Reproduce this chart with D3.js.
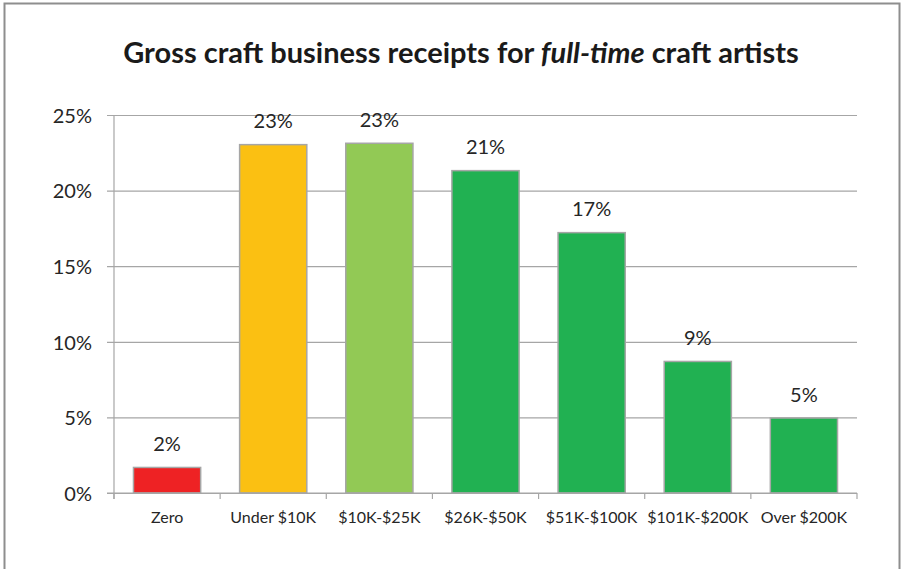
<!DOCTYPE html>
<html>
<head>
<meta charset="utf-8">
<script src="https://cdn.jsdelivr.net/npm/d3@7"></script>
<style>
  html, body { margin: 0; padding: 0; background: #fff; }
  svg { display: block; font-family: Lato, "Open Sans", sans-serif; }
</style>
</head>
<body>
<svg id="chart" width="904" height="569"></svg>
<script>
// Share of full-time craft artists by gross craft business receipts
const categories = ["Zero", "Under $10K", "$10K-$25K", "$26K-$50K", "$51K-$100K", "$101K-$200K", "Over $200K"];
const shares = [0.0169, 0.2304, 0.2313, 0.2132, 0.1722, 0.0870, 0.0496];
const barColors = ["#ee2224", "#fbc012", "#92c955", "#21b152", "#21b152", "#21b152", "#21b152"];
const yTicks = [0, 0.05, 0.10, 0.15, 0.20, 0.25];

const svg = d3.select("#chart");
const W = 904, H = 569;
const margin = { left: 114, right: 47, top: 115, bottom: 76 };

// chart frame
svg.append("rect")
  .attr("x", 4.5).attr("y", 3.5)
  .attr("width", 895).attr("height", 580)
  .attr("fill", "#fff").attr("stroke", "#8e8e8e").attr("stroke-width", 2);

const x = d3.scaleBand()
  .domain(categories)
  .range([margin.left, W - margin.right])
  .paddingInner(0.367)
  .paddingOuter(0.1835);

const y = d3.scaleLinear()
  .domain([0, 0.25])
  .range([H - margin.bottom, margin.top]);

const pct = d3.format(".0%");

// title
const title = svg.append("text")
  .attr("x", 461).attr("y", 63)
  .attr("text-anchor", "middle")
  .attr("font-size", 29).attr("font-weight", 700)
  .attr("fill", "#1a1a1a");
title.append("tspan").text("Gross craft business receipts for ");
title.append("tspan").attr("font-style", "italic").text("full-time");
title.append("tspan").text(" craft artists");

// horizontal gridlines + y axis
const yAxis = d3.axisLeft(y)
  .tickValues(yTicks)
  .tickFormat(pct)
  .tickSize(-(W - margin.left - margin.right))
  .tickPadding(0);

const gy = svg.append("g")
  .attr("transform", `translate(${margin.left},0)`)
  .call(yAxis);
gy.select(".domain").remove();
gy.selectAll(".tick line")
  .attr("x1", -7)
  .attr("stroke", "#a6a6a6").attr("stroke-width", 1.2);
gy.selectAll(".tick text")
  .attr("x", -22)
  .attr("dy", "0.36em")
  .attr("font-size", 20)
  .attr("font-family", "Lato, sans-serif")
  .attr("fill", "#262626");

// vertical axis line
svg.append("line")
  .attr("x1", margin.left).attr("x2", margin.left)
  .attr("y1", y(0.25)).attr("y2", y(0) + 6)
  .attr("stroke", "#a6a6a6").attr("stroke-width", 1.2);

// bars
svg.append("g").selectAll("rect")
  .data(categories)
  .join("rect")
  .attr("x", d => x(d))
  .attr("width", x.bandwidth())
  .attr("y", (d, i) => y(shares[i]))
  .attr("height", (d, i) => y(0) - y(shares[i]))
  .attr("fill", (d, i) => barColors[i])
  .attr("stroke", "#a6a6a6")
  .attr("stroke-width", 1.5);

// category axis with boundary ticks
const step = x.step();
const boundaries = d3.range(categories.length + 1).map(i => margin.left + i * step);
svg.append("line")
  .attr("x1", margin.left - 7).attr("x2", W - margin.right)
  .attr("y1", y(0)).attr("y2", y(0))
  .attr("stroke", "#a6a6a6").attr("stroke-width", 1.2);
svg.append("g").selectAll("line")
  .data(boundaries)
  .join("line")
  .attr("x1", d => d).attr("x2", d => d)
  .attr("y1", y(0)).attr("y2", y(0) + 6)
  .attr("stroke", "#a6a6a6").attr("stroke-width", 1.2);

svg.append("g").selectAll("text")
  .data(categories)
  .join("text")
  .attr("x", d => x(d) + x.bandwidth() / 2)
  .attr("y", 523)
  .attr("text-anchor", "middle")
  .attr("font-size", 16)
  .attr("fill", "#262626")
  .text(d => d);

// value labels
svg.append("g").selectAll("text")
  .data(categories)
  .join("text")
  .attr("x", d => x(d) + x.bandwidth() / 2)
  .attr("y", (d, i) => y(shares[i]) - 16.5)
  .attr("text-anchor", "middle")
  .attr("font-size", 20)
  .attr("fill", "#262626")
  .text((d, i) => pct(shares[i]));
</script>
</body>
</html>
